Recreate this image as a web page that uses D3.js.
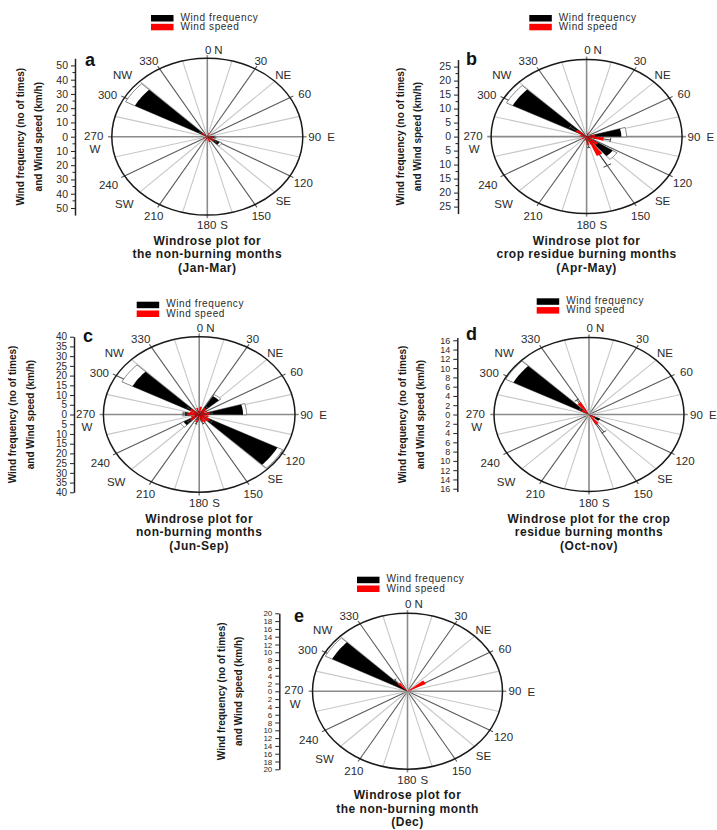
<!DOCTYPE html>
<html>
<head>
<meta charset="utf-8">
<script src="https://cdn.jsdelivr.net/npm/d3@7"></script>
<style>
body { margin: 0; background: #fff; }
svg text { font-family: "Liberation Sans", Arial, sans-serif; }
</style>
</head>
<body>
<svg id="chart" width="717" height="830"></svg>
<script>
// five wind roses, a to e. values

var letters = ["a", "b", "c", "d", "e"];

var subtitles = [
    ["Windrose plot for", "the non-burning months", "(Jan-Mar)"],
    ["Windrose plot for", "crop residue burning months", "(Apr-May)"],
    ["Windrose plot for", "non-burning months", "(Jun-Sep)"],
    ["Windrose plot for the crop", "residue burning months", "(Oct-nov)"],
    ["Windrose plot for", "the non-burning month", "(Dec)"]
];

var legendLabels = ["Wind frequency", "Wind speed"];
var axisTitle = ["Wind frequency (no of times)", "and Wind speed (km/h)"];

// radial value at the rim, tick step and highest tick label
var radialMax = [55, 27.5, 40, 16.6, 20];
var tickStep = [10, 5, 5, 2, 2];
var tickTop = [50, 25, 40, 16, 20];

// sector centres (degrees from north) per panel
var sectorDir = [
    [306, 126, 95, 160, 200, 250, 20],
    [306, 82, 100, 132, 150, 172, 200, 240, 280, 20],
    [306, 40, 82, 126, 160, 195, 232, 272, 345, 10, 60, 105, 145, 250, 285],
    [306, 325, 122, 145],
    [306, 318, 57, 80]
];
// wind frequency (no of times) and its spread
var freq = [
    [47, 8, 4, 2, 1.5, 1.5, 1.5],
    [24, 10, 3, 9, 3, 2, 1, 1, 1.5, 1],
    [31.4, 11, 18.3, 36.8, 3, 3, 7.5, 6, 2, 2, 2, 2, 2, 2, 2],
    [14.9, 0, 2.1, 0.6],
    [17.9, 0, 0, 0]
];
var freqSd = [
    [6, 1.5, 1, 0, 0, 0, 0],
    [2, 1.5, 0, 1.5, 0, 0, 0, 0, 0, 0],
    [5, 1, 1.5, 2.5, 1, 1, 1.5, 1, 0, 0, 0, 0, 0, 0, 0],
    [1.5, 0, 0, 0],
    [1.6, 0, 0, 0]
];
// wind speed (km/h) and its spread
var speed = [
    [4, 5, 3.5, 4, 3, 2.5, 2.5],
    [3.6, 2.5, 5, 4, 7.5, 3, 1.5, 1.5, 2, 1.5],
    [4.5, 4, 4.5, 5, 4, 4, 4.5, 5, 3.5, 4, 3.5, 4, 4.5, 3.5, 4],
    [1.5, 3, 1.2, 2.5],
    [0, 2.7, 4.3, 0.8]
];
var speedSd = [
    [1.5, 1.5, 1, 0, 0, 0, 0],
    [2.3, 0, 2, 0, 4.5, 1, 0, 0, 0, 0],
    [1.5, 1, 1, 1.5, 1, 1, 1.5, 1.5, 0, 0, 0, 0, 0, 0, 0],
    [0.5, 0.8, 0, 2.1],
    [0, 1.3, 0, 0]
];

var dirLabels = [
    {t: "330", dx: -58.5, dy: -71.7, a: "middle"},
    {t: "30", dx: 53.5, dy: -71.7, a: "middle"},
    {t: "NE", dx: 76, dy: -57.7, a: "middle"},
    {t: "60", dx: 97.4, dy: -38.4, a: "middle"},
    {t: "120", dx: 96, dy: 50, a: "middle"},
    {t: "SE", dx: 76, dy: 68.3, a: "middle"},
    {t: "150", dx: 54, dy: 83.3, a: "middle"},
    {t: "210", dx: -53.6, dy: 83.3, a: "middle"},
    {t: "SW", dx: -83, dy: 71.7, a: "middle"},
    {t: "240", dx: -98.8, dy: 52.7, a: "middle"},
    {t: "270", dx: -113.6, dy: 3, a: "middle"},
    {t: "W", dx: -112.3, dy: 16.5, a: "middle"},
    {t: "300", dx: -99.8, dy: -37.4, a: "middle"},
    {t: "NW", dx: -84.8, dy: -57.7, a: "middle"},
    {t: "0", dx: 4, dy: -83, a: "end"},
    {t: "N", dx: 7, dy: -83, a: "start"},
    {t: "90", dx: 101, dy: 4, a: "start"},
    {t: "E", dx: 120, dy: 4.5, a: "start"},
    {t: "180", dx: 9, dy: 92.7, a: "end"},
    {t: "S", dx: 13, dy: 92.7, a: "start"}
];

// layout of each panel
var geo = [
    {cx: 207.3, cy: 136.7, rx: 95.5, ry: 78.4, axisX: 75, letter: [85, 66], leg: [151, 15]},
    {cx: 586.6, cy: 136.6, rx: 95.5, ry: 77, axisX: 458, letter: [466, 65], leg: [529.3, 15]},
    {cx: 199.2, cy: 414.5, rx: 95.8, ry: 77.8, axisX: 74, letter: [83, 342], leg: [136.7, 301.7]},
    {cx: 589, cy: 414.5, rx: 95, ry: 77, axisX: 457.3, letter: [466, 340], leg: [536.7, 298.3]},
    {cx: 407.5, cy: 691.3, rx: 95, ry: 78, axisX: 279.3, letter: [294, 622], leg: [357, 576.7]}
];
var tickFont = ["10.5px", "10.5px", "10px", "9px", "8px"];

var svg = d3.select("#chart");
var txt = "#2b2b2b";

geo.forEach(function (g, i) {
    var r = d3.scaleLinear().domain([0, radialMax[i]]).range([0, 1]);
    var panel = svg.append("g");

    function pt(deg, v) {
        var t = deg * Math.PI / 180, k = r(v);
        return [g.cx + g.rx * k * Math.sin(t), g.cy - g.ry * k * Math.cos(t)];
    }
    function wedge(dir, v, w) {
        var pts = [[g.cx, g.cy]];
        for (var s = 0; s <= 10; s++) pts.push(pt(dir - w / 2 + w * s / 10, v));
        return d3.line()(pts) + "Z";
    }

    // spokes
    d3.range(0, 360, 15).forEach(function (a) {
        var main = a % 90 === 0, dark = a % 30 === 0;
        var end = pt(a, radialMax[i] * (dark ? 1.04 : 1));
        panel.append("line")
            .attr("x1", g.cx).attr("y1", g.cy)
            .attr("x2", end[0]).attr("y2", end[1])
            .attr("stroke", main ? "#8a8a8a" : (dark ? "#5a5a5a" : "#c8c8c8"))
            .attr("stroke-width", main ? 1.6 : 1.1);
    });

    panel.append("ellipse")
        .attr("cx", g.cx).attr("cy", g.cy)
        .attr("rx", g.rx).attr("ry", g.ry)
        .attr("fill", "none")
        .attr("stroke", "#1a1a1a")
        .attr("stroke-width", 1.5);

    var dirs = sectorDir[i];

    // frequency spread boxes, then frequency
    dirs.forEach(function (d, j) {
        if (freqSd[i][j] > 0) {
            panel.append("path")
                .attr("d", wedge(d, freq[i][j] + freqSd[i][j], 17))
                .attr("fill", "#fff")
                .attr("stroke", "#555")
                .attr("stroke-width", 0.7);
        }
    });
    dirs.forEach(function (d, j) {
        if (freq[i][j] > 0) {
            panel.append("path")
                .attr("d", wedge(d, freq[i][j], 17))
                .attr("fill", "#000");
        }
    });

    // speed and whiskers
    dirs.forEach(function (d, j) {
        if (speed[i][j] > 0) {
            panel.append("path")
                .attr("d", wedge(d, speed[i][j], 14))
                .attr("fill", "#ff0000");
        }
    });
    dirs.forEach(function (d, j) {
        if (speedSd[i][j] > 0) {
            var top = speed[i][j] + speedSd[i][j];
            var p0 = pt(d, speed[i][j]), p1 = pt(d, top);
            panel.append("line")
                .attr("x1", p0[0]).attr("y1", p0[1])
                .attr("x2", p1[0]).attr("y2", p1[1])
                .attr("stroke", "#444").attr("stroke-width", 1);
            var c0 = pt(d - 6, top), c1 = pt(d + 6, top);
            panel.append("line")
                .attr("x1", c0[0]).attr("y1", c0[1])
                .attr("x2", c1[0]).attr("y2", c1[1])
                .attr("stroke", "#444").attr("stroke-width", 1);
        }
    });

    // direction labels
    dirLabels.forEach(function (l) {
        panel.append("text")
            .attr("x", g.cx + l.dx).attr("y", g.cy + l.dy)
            .attr("text-anchor", l.a)
            .attr("font-size", "11.5px")
            .attr("fill", txt)
            .text(l.t);
    });

    // vertical value axis
    var y = d3.scaleLinear().domain([-radialMax[i], radialMax[i]]).range([g.cy + g.ry, g.cy - g.ry]);
    var step = tickStep[i], topT = tickTop[i];
    var axis = d3.axisLeft(y)
        .tickValues(d3.range(-topT, topT + step / 2, step))
        .tickFormat(function (d) { return Math.abs(d); })
        .tickSize(4).tickSizeOuter(0);
    var ax = panel.append("g")
        .attr("transform", "translate(" + g.axisX + ",0)")
        .call(axis);
    ax.select(".domain").attr("stroke", "#222").attr("stroke-width", 1.5);
    ax.selectAll(".tick line").attr("stroke", "#222");
    ax.selectAll(".tick text")
        .attr("fill", txt)
        .attr("font-size", tickFont[i])
        .attr("font-family", "Liberation Sans, Arial, sans-serif")
        .attr("x", -7);
    if (i < 2) {
        var minor = d3.range(-topT + step / 2, topT, step);
        ax.selectAll(".minor").data(minor).enter().append("line")
            .attr("x1", 0).attr("x2", -2.5)
            .attr("y1", function (d) { return y(d); })
            .attr("y2", function (d) { return y(d); })
            .attr("stroke", "#222");
    }

    // axis title
    axisTitle.forEach(function (t, k) {
        var tx = g.cx - 186.5 + k * 17.5;
        panel.append("text")
            .attr("transform", "translate(" + tx + "," + g.cy + ") rotate(-90)")
            .attr("text-anchor", "middle")
            .attr("dy", "0.35em")
            .attr("font-size", "10px")
            .attr("font-weight", "bold")
            .attr("fill", "#1a1a1a")
            .text(t);
    });

    // panel letter
    panel.append("text")
        .attr("x", g.letter[0]).attr("y", g.letter[1])
        .attr("font-size", "18px")
        .attr("font-weight", "bold")
        .attr("fill", "#111")
        .text(letters[i]);

    // legend
    ["#000", "#ff0000"].forEach(function (c, k) {
        panel.append("rect")
            .attr("x", g.leg[0]).attr("y", g.leg[1] + k * 8.8)
            .attr("width", 22.5).attr("height", 6.5)
            .attr("fill", c);
        panel.append("text")
            .attr("x", g.leg[0] + 29.5).attr("y", g.leg[1] + 5.5 + k * 9.6)
            .attr("font-size", "10px")
            .attr("letter-spacing", "0.6px")
            .attr("fill", txt)
            .text(legendLabels[k]);
    });

    // subtitle
    subtitles[i].forEach(function (t, k) {
        panel.append("text")
            .attr("x", g.cx).attr("y", g.cy + 108 + k * 13.5)
            .attr("text-anchor", "middle")
            .attr("font-size", "12px")
            .attr("font-weight", "bold")
            .attr("letter-spacing", "0.5px")
            .attr("fill", "#1a1a1a")
            .text(t);
    });
});
</script>
</body>
</html>
